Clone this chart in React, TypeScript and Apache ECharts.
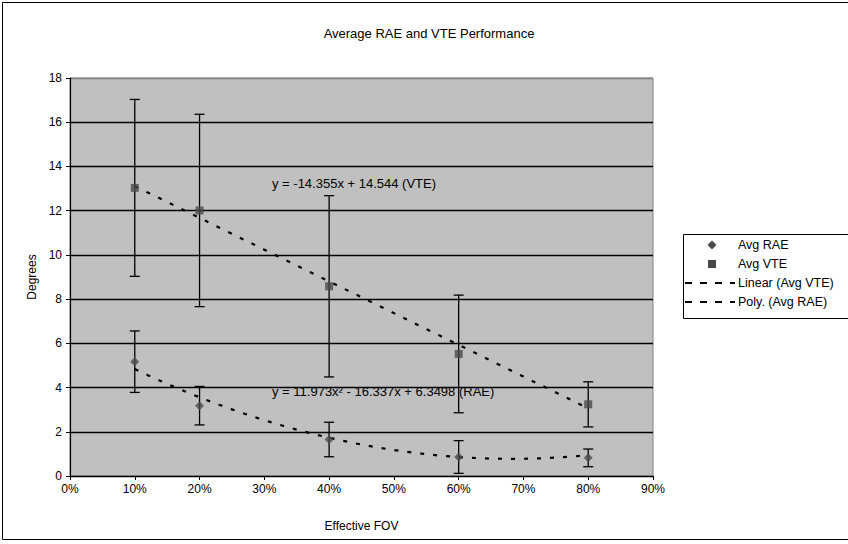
import React, { useEffect, useRef } from "react";
import * as echarts from "echarts";

// Effective FOV (fraction)
const fov = [0.1, 0.2, 0.4, 0.6, 0.8];
// Avg RAE (degrees) and its error (±)
const avgRAE = [5.17, 3.18, 1.65, 0.86, 0.82];
const raeErr = [1.39, 0.87, 0.78, 0.74, 0.4];
// Avg VTE (degrees) and its error (±)
const avgVTE = [13.03, 12.01, 8.58, 5.52, 3.24];
const vteErr = [4.0, 4.35, 4.1, 2.66, 1.02];

// Trendline coefficients as printed on the chart
const vteLinear = { slope: -14.355, intercept: 14.544 };
const raePoly = { a: 11.973, b: -16.337, c: 6.3498 };

const yTicks = [0, 2, 4, 6, 8, 10, 12, 14, 16, 18];
const legendNames = ["Avg RAE", "Avg VTE", "Linear (Avg VTE)", "Poly. (Avg RAE)"];
const FONT = "Liberation Sans, Arial, sans-serif";
const MARKER = "#4a4a4a";

export default function App() {
  const ref = useRef<HTMLDivElement>(null);
  useEffect(() => {
    if (!ref.current) return;
    const chart = echarts.init(ref.current, undefined, { renderer: "svg" });

    const x0 = fov[0];
    const x1 = fov[fov.length - 1];
    const linPts: number[][] = [];
    const polyPts: number[][] = [];
    for (let i = 0; i <= 70; i++) {
      const x = x0 + ((x1 - x0) * i) / 70;
      linPts.push([x, vteLinear.slope * x + vteLinear.intercept]);
      polyPts.push([x, raePoly.a * x * x + raePoly.b * x + raePoly.c]);
    }

    const errData = (vals: number[], errs: number[]) =>
      fov.map((x, i) => [x, vals[i] - errs[i], vals[i] + errs[i]]);

    const errRender = (params: any, api: any) => {
      const x = api.value(0);
      const top = api.coord([x, api.value(2)]);
      const bot = api.coord([x, api.value(1)]);
      const w = 5;
      const st = { stroke: "#000", lineWidth: 1.3 };
      return {
        type: "group",
        children: [
          { type: "line", shape: { x1: top[0], y1: top[1], x2: bot[0], y2: bot[1] }, style: st },
          { type: "line", shape: { x1: top[0] - w, y1: top[1], x2: top[0] + w, y2: top[1] }, style: st },
          { type: "line", shape: { x1: bot[0] - w, y1: bot[1], x2: bot[0] + w, y2: bot[1] }, style: st },
        ],
      };
    };

    const splitColors = yTicks.map((_, i) => (i === yTicks.length - 1 ? "#808080" : "#000"));

    // legend drawn as graphic elements
    const lgLeft = 683;
    const lgTop = 234;
    const rowH = 19;
    const row0 = lgTop + 11;
    const iconCx = 712;
    const legendEls: any[] = [
      {
        type: "rect",
        shape: { x: lgLeft + 0.5, y: lgTop + 0.5, width: 180, height: 84 },
        style: { fill: "#fff", stroke: "#000", lineWidth: 1 },
        z: 60,
      },
    ];
    legendNames.forEach((name, i) => {
      const cy = row0 + i * rowH;
      if (i === 0) {
        legendEls.push({
          type: "polygon",
          shape: { points: [[iconCx, cy - 4.5], [iconCx + 4.5, cy], [iconCx, cy + 4.5], [iconCx - 4.5, cy]] },
          style: { fill: MARKER },
          z: 61,
        });
      } else if (i === 1) {
        legendEls.push({
          type: "rect",
          shape: { x: iconCx - 4, y: cy - 4, width: 8, height: 8 },
          style: { fill: MARKER },
          z: 61,
        });
      } else {
        legendEls.push({
          type: "line",
          shape: { x1: 685, y1: cy, x2: 735, y2: cy },
          style: { stroke: "#000", lineWidth: 2.2, lineDash: [7, 8] },
          z: 61,
        });
      }
      legendEls.push({
        type: "text",
        x: 738,
        y: cy,
        style: { text: name, fontSize: 12.5, fill: "#000", fontFamily: FONT, verticalAlign: "middle" },
        z: 61,
      });
    });

    chart.setOption({
      animation: false,
      backgroundColor: "#fff",
      textStyle: { fontFamily: FONT },
      title: {
        text: "Average RAE and VTE Performance",
        left: 424,
        textAlign: "center",
        top: 22,
        textStyle: { fontSize: 13, fontWeight: "normal", color: "#000", fontFamily: FONT },
      },
      grid: {
        left: 70,
        right: 195,
        top: 78,
        bottom: 68,
        show: true,
        backgroundColor: "#c0c0c0",
        borderColor: "#808080",
        borderWidth: 1,
      },
      xAxis: {
        type: "value",
        min: 0,
        max: 0.9,
        interval: 0.1,
        name: "Effective FOV",
        nameLocation: "middle",
        nameGap: 44,
        nameTextStyle: { fontSize: 12, color: "#000", fontFamily: FONT },
        axisLine: { show: true, lineStyle: { color: "#000", width: 1.2 } },
        axisTick: { show: true, length: 4, lineStyle: { color: "#000" } },
        axisLabel: {
          fontSize: 12,
          color: "#000",
          margin: 7,
          fontFamily: FONT,
          formatter: (v: number) => `${Math.round(v * 100)}%`,
        },
        splitLine: { show: false },
      },
      yAxis: {
        type: "value",
        min: 0,
        max: 18,
        interval: 2,
        name: "Degrees",
        nameLocation: "middle",
        nameRotate: 90,
        nameGap: 32,
        nameTextStyle: { fontSize: 12, color: "#000", fontFamily: FONT },
        axisLine: { show: true, lineStyle: { color: "#000", width: 1.2 } },
        axisTick: { show: true, length: 4, lineStyle: { color: "#000" } },
        axisLabel: { fontSize: 12, color: "#000", margin: 8, fontFamily: FONT },
        splitLine: { show: true, lineStyle: { color: splitColors, width: 1.3 } },
      },
      graphic: [
        {
          type: "rect",
          shape: { x: 2.5, y: 2.5, width: 860, height: 537 },
          style: { fill: "none", stroke: "#000", lineWidth: 1 },
          silent: true,
          z: 100,
        },
        {
          type: "text",
          left: 272,
          top: 177,
          style: { text: "y = -14.355x + 14.544 (VTE)", fontSize: 13, fill: "#000", fontFamily: FONT },
          z: 50,
        },
        {
          type: "text",
          left: 272,
          top: 385,
          style: { text: "y = 11.973x² - 16.337x + 6.3498 (RAE)", fontSize: 13, fill: "#000", fontFamily: FONT },
          z: 50,
        },
        ...legendEls,
      ],
      series: [
        {
          name: "VTE err",
          type: "custom",
          renderItem: errRender,
          data: errData(avgVTE, vteErr),
          z: 2,
          silent: true,
        },
        {
          name: "RAE err",
          type: "custom",
          renderItem: errRender,
          data: errData(avgRAE, raeErr),
          z: 2,
          silent: true,
        },
        {
          name: "Linear (Avg VTE)",
          type: "line",
          data: linPts,
          showSymbol: false,
          symbol: "none",
          lineStyle: { color: "#000", width: 2.2, type: [4, 9] },
          itemStyle: { color: "#000" },
          z: 3,
        },
        {
          name: "Poly. (Avg RAE)",
          type: "line",
          data: polyPts,
          showSymbol: false,
          symbol: "none",
          lineStyle: { color: "#000", width: 2.2, type: [4, 9] },
          itemStyle: { color: "#000" },
          z: 3,
        },
        {
          name: "Avg RAE",
          type: "scatter",
          symbol: "diamond",
          symbolSize: 9,
          itemStyle: { color: MARKER },
          data: fov.map((x, i) => [x, avgRAE[i]]),
          z: 4,
        },
        {
          name: "Avg VTE",
          type: "scatter",
          symbol: "rect",
          symbolSize: 8,
          itemStyle: { color: MARKER },
          data: fov.map((x, i) => [x, avgVTE[i]]),
          z: 4,
        },
      ],
    });
    return () => chart.dispose();
  }, []);

  return (
    <div
      ref={ref}
      style={{ position: "absolute", left: 0, top: 0, width: 848, height: 544 }}
    />
  );
}
